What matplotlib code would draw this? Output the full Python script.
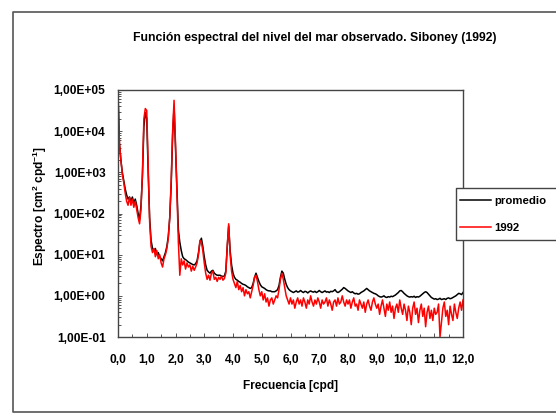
import numpy as np
import matplotlib
matplotlib.use("Agg")
import matplotlib.pyplot as plt
from matplotlib.patches import Rectangle
from matplotlib.lines import Line2D
from matplotlib.ticker import FixedLocator, FixedFormatter, LogLocator, MultipleLocator

plt.rcParams["font.family"] = ["Liberation Sans", "DejaVu Sans"]
plt.rcParams["font.weight"] = "bold"
plt.rcParams["mathtext.fontset"] = "custom"
plt.rcParams["mathtext.rm"] = "Liberation Sans:bold"
plt.rcParams["mathtext.it"] = "Liberation Sans:bold"
plt.rcParams["mathtext.bf"] = "Liberation Sans:bold"

# frequency grid 0.00 .. 12.00 cpd, step 0.05 (241 points)
freq = np.round(np.arange(0, 241) * 0.05, 2)

# log10 of spectrum
log_promedio = [
    # 0.00 - 1.95
    4.9, 3.7, 3.3, 3.0, 2.8, 2.6, 2.45, 2.35, 2.4, 2.3,
    2.4, 2.25, 2.35, 2.2, 2.0, 1.85, 2.2, 2.9, 4.1, 4.45,
    4.3, 3.0, 1.9, 1.35, 1.15, 1.1, 1.15, 1.0, 1.05, 0.95,
    0.9, 0.85, 0.95, 1.05, 1.2, 1.45, 1.9, 2.7, 3.9, 4.6,
    # 2.00 - 3.95
    3.6, 2.6, 1.6, 1.3, 1.1, 0.95, 0.9, 0.88, 0.85, 0.82,
    0.8, 0.78, 0.76, 0.75, 0.78, 0.85, 1.05, 1.3, 1.4, 1.2,
    0.95, 0.75, 0.62, 0.58, 0.55, 0.6, 0.62, 0.55, 0.52, 0.5,
    0.5, 0.5, 0.48, 0.47, 0.48, 0.6, 1.2, 1.7, 1.1, 0.75,
    # 4.00 - 5.95
    0.55, 0.45, 0.4, 0.38, 0.35, 0.33, 0.3, 0.28, 0.27, 0.25,
    0.22, 0.2, 0.18, 0.2, 0.3, 0.45, 0.55, 0.45, 0.35, 0.27,
    0.22, 0.2, 0.18, 0.15, 0.13, 0.12, 0.12, 0.1, 0.1, 0.1,
    0.12, 0.15, 0.25, 0.45, 0.6, 0.55, 0.4, 0.28, 0.2, 0.15,
    # 6.00 - 7.95
    0.12, 0.1, 0.08, 0.1, 0.12, 0.09, 0.1, 0.13, 0.1, 0.08,
    0.11, 0.1, 0.07, 0.1, 0.12, 0.1, 0.09, 0.11, 0.08, 0.1,
    0.13, 0.1, 0.08, 0.1, 0.12, 0.09, 0.1, 0.08, 0.11, 0.1,
    0.12, 0.15, 0.1, 0.08, 0.1, 0.13, 0.16, 0.2, 0.18, 0.15,
    # 8.00 - 9.95
    0.12, 0.1, 0.08, 0.1, 0.07, 0.05, 0.06, 0.04, 0.05, 0.08,
    0.1, 0.12, 0.15, 0.18, 0.15, 0.12, 0.1, 0.08, 0.06, 0.05,
    0.03, 0.0, -0.02, -0.03, -0.02, 0.0, -0.03, -0.04, -0.02, -0.03,
    -0.01, -0.02, 0.0, 0.02, 0.05, 0.08, 0.12, 0.13, 0.1, 0.06,
    # 10.00 - 12.00
    0.03, 0.0, -0.02, -0.03, -0.02, -0.03, -0.01, -0.04, -0.02, -0.03,
    -0.01, 0.02, 0.05, 0.08, 0.1, 0.08, 0.04, 0.0, -0.04, -0.06,
    -0.08, -0.07, -0.09, -0.08, -0.06, -0.09, -0.08, -0.07, -0.09, -0.06,
    -0.05, -0.07, -0.06, -0.04, -0.02, 0.0, 0.03, 0.06, 0.05, 0.03,
    0.08,
]

log_1992 = [
    # 0.00 - 1.95
    4.9, 3.7, 3.3, 2.95, 2.75, 2.5, 2.3, 2.2, 2.4, 2.2,
    2.35, 2.15, 2.3, 2.1, 1.9, 1.75, 2.1, 3.0, 4.3, 4.55,
    4.5, 3.2, 1.8, 1.2, 1.05, 1.15, 0.95, 1.1, 0.9, 1.0,
    0.8, 0.7, 0.9, 1.0, 1.15, 1.4, 1.9, 2.8, 4.0, 4.75,
    # 2.00 - 3.95
    3.7, 2.5, 1.3, 0.5, 0.9, 0.75, 0.85, 0.65, 0.8, 0.7,
    0.75, 0.6, 0.72, 0.62, 0.7, 0.8, 1.0, 1.35, 1.3, 1.1,
    0.8, 0.55, 0.4, 0.5, 0.38, 0.55, 0.6, 0.4, 0.45, 0.35,
    0.45, 0.4, 0.48, 0.38, 0.42, 0.55, 1.2, 1.75, 1.0, 0.6,
    # 4.00 - 5.95
    0.4, 0.3, 0.2, 0.35, 0.15, 0.25, 0.1, 0.2, 0.0, 0.15,
    0.05, 0.1, -0.05, 0.1, 0.25, 0.45, 0.5, 0.35, 0.15, 0.0,
    0.1, -0.1, 0.05, -0.15, -0.05, -0.25, -0.1, -0.05, -0.2, -0.1,
    0.0, -0.05, 0.15, 0.4, 0.55, 0.4, 0.2, 0.0, -0.1, -0.2,
    # 6.00 - 7.95
    -0.05, -0.2, -0.1, -0.3, -0.15, -0.05, -0.2, -0.1, -0.25, -0.05,
    -0.15, -0.3, -0.1, -0.2, 0.0, -0.15, -0.25, -0.1, -0.2, -0.05,
    -0.15, -0.3, -0.1, -0.2, -0.15, -0.05, -0.25, -0.1, -0.2, -0.35,
    -0.15, -0.1, -0.25, -0.05, -0.2, -0.15, 0.0, -0.15, -0.25, -0.1,
    # 8.00 - 9.95
    -0.2, -0.1, -0.3, -0.15, -0.05, -0.25, -0.2, -0.35, -0.1, -0.2,
    -0.3, -0.15, -0.4, -0.2, -0.1, -0.25, -0.35, -0.15, -0.05, -0.2,
    -0.3, -0.2, -0.45, -0.25, -0.1, -0.3, -0.5, -0.2, -0.35, -0.15,
    -0.4, -0.25, -0.55, -0.3, -0.2, -0.4, -0.1, -0.3, -0.45, -0.2,
    # 10.00 - 12.00
    -0.35, -0.6, -0.25, -0.4, -0.7, -0.3, -0.15, -0.45, -0.3, -0.65,
    -0.35, -0.2, -0.5, -0.3, -0.75, -0.4, -0.25, -0.55, -0.35, -0.6,
    -0.3, -0.45, -0.4, -0.2, -1.0, -0.65, -0.3, -0.15, -0.5, -0.35,
    -0.7, -0.25, -0.45, -0.6, -0.2, -0.4, -0.55, -0.3, -0.15, -0.35,
    -0.1,
]

promedio = 10.0 ** np.array(log_promedio)
serie_1992 = 10.0 ** np.array(log_1992)

x_ticks = np.arange(0, 13)
x_ticklabels = ["0,0", "1,0", "2,0", "3,0", "4,0", "5,0", "6,0", "7,0",
                "8,0", "9,0", "10,0", "11,0", "12,0"]
y_ticks = [1e-1, 1e0, 1e1, 1e2, 1e3, 1e4, 1e5]
y_ticklabels = ["1,00E-01", "1,00E+00", "1,00E+01", "1,00E+02",
                "1,00E+03", "1,00E+04", "1,00E+05"]

fig = plt.figure(figsize=(5.56, 4.16), dpi=100)
fig.patch.set_facecolor("white")


def fig_line(xs, ys, **kw):
    # xs, ys in pixels from the top-left corner
    fig.add_artist(Line2D([x / 556 for x in xs], [1 - y / 416 for y in ys],
                          transform=fig.transFigure, **kw))


# outer chart frame (right edge falls outside the image)
fig_line([600, 13, 13, 600], [12, 12, 412, 412], color="#555555", linewidth=1.2)

ax = fig.add_axes([118 / 556, 1 - 337 / 416, 345 / 556, 247 / 416])
ax.plot(freq, promedio, color="black", linewidth=1.1, label="promedio")
ax.plot(freq, serie_1992, color="#ff0000", linewidth=1.1, label="1992")

ax.set_yscale("log")
ax.set_xlim(0, 12)
ax.set_ylim(1e-1, 1e5)

ax.xaxis.set_major_locator(FixedLocator(x_ticks))
ax.xaxis.set_major_formatter(FixedFormatter(x_ticklabels))
ax.xaxis.set_minor_locator(MultipleLocator(0.5))
ax.yaxis.set_major_locator(FixedLocator(y_ticks))
ax.yaxis.set_major_formatter(FixedFormatter(y_ticklabels))
ax.yaxis.set_minor_locator(LogLocator(base=10, subs=np.arange(2, 10), numticks=20))

ax.tick_params(axis="both", which="both", direction="in", color="#555555",
               labelsize=8.6, width=0.7)
ax.tick_params(axis="both", which="major", length=3)
ax.tick_params(axis="both", which="minor", length=2)
ax.tick_params(axis="x", pad=12)
ax.tick_params(axis="y", pad=9)
for s in ax.spines.values():
    s.set_color("#444444")
    s.set_linewidth(1.0)

ax.set_xlabel("Frecuencia [cpd]", fontsize=8.6, fontweight="bold", labelpad=10)
ax.set_ylabel(r"Espectro [cm$^{2}$ cpd$^{-1}$]", fontsize=8.6,
              fontweight="bold")
ax.yaxis.set_label_coords(-0.2, 0.53)
fig.text(315 / 556, 1 - 38 / 416,
         "Función espectral del nivel del mar observado. Siboney (1992)",
         ha="center", va="center", fontsize=8.8, fontweight="bold")

# legend box runs past the right edge of the image
fig.add_artist(Rectangle((456 / 556, 1 - 240 / 416), 0.3, 52 / 416,
                         transform=fig.transFigure, fill=True,
                         facecolor="white", edgecolor="none"))
fig_line([600, 456, 456, 600], [188, 188, 240, 240], color="#444444", linewidth=1.0)
handles = [Line2D([], [], color="black", linewidth=1.1),
           Line2D([], [], color="#ff0000", linewidth=1.1)]
leg = fig.legend(handles, ["promedio", "1992"], loc="upper left",
                 bbox_to_anchor=(458 / 556, 1 - 194 / 416),
                 fontsize=8.2, frameon=False,
                 handlelength=2.7, handletextpad=0.3, labelspacing=1.45,
                 borderpad=0.2, borderaxespad=0)

fig.savefig("out.png", dpi=100)
